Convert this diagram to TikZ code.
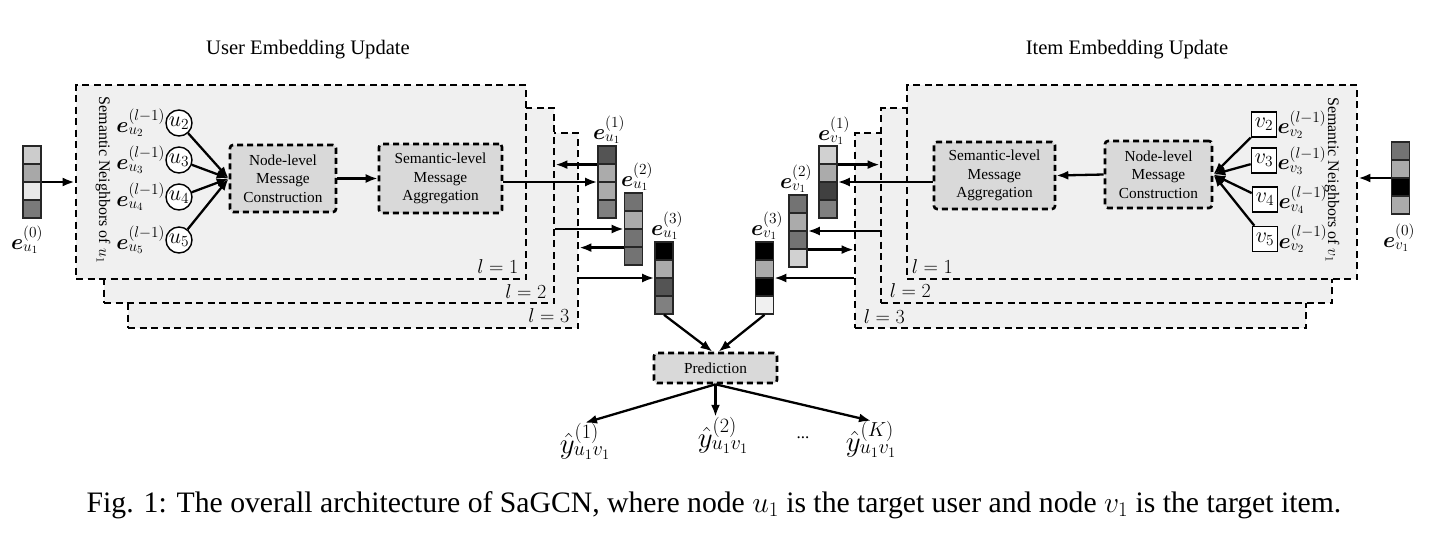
\RequirePackage{fix-cm}
\documentclass[tikz,border=0pt]{standalone}
\usepackage{amsmath,bm}
\usepackage{fontspec}
\setmainfont{Liberation Serif}
\usetikzlibrary{arrows.meta,positioning,fit}

% one embedding vector: name, centre x, top y, cell colours
\newcommand{\embvec}[4]{%
  \foreach \cc [count=\i] in {#4}
    \node[cell,fill=\cc] (#1-\i) at (#2,#3+18*\i-9) {};
  \node[fit=(#1-1)(#1-4),inner sep=0pt] (#1) {};
}

\begin{document}
\begin{tikzpicture}[x=1pt,y=-1pt,
  frame/.style={draw,line width=2.8pt,dash pattern=on 7pt off 4.5pt,fill=black!6,minimum width=450,minimum height=195,inner sep=0},
  blk/.style={draw,line width=2.6pt,dash pattern=on 6pt off 4pt,rounded corners=3pt,fill=black!15,align=center,inner sep=0,font=\fontsize{15.3}{18.7}\selectfont},
  arr/.style={-{Latex[length=12pt,width=9pt]},line width=2.3pt},
  cell/.style={draw=black!85,line width=1.2pt,minimum size=18,inner sep=0},
  lbl/.style={inner sep=0,font=\fontsize{22}{24}\selectfont},
  nbu/.style={circle,draw,line width=1.4pt,fill=white,minimum size=26,inner sep=0,font=\fontsize{22}{24}\selectfont},
  nbv/.style={rectangle,draw,line width=1.6pt,fill=white,minimum size=25,inner sep=0,font=\fontsize{22}{24}\selectfont},
  side/.style={rotate=-90,inner sep=0,font=\fontsize{16}{19}\selectfont},
  ttl/.style={font=\fontsize{20.6}{24}\selectfont},
  lay/.style={inner sep=0,font=\fontsize{20}{22}\selectfont},
  yh/.style={inner sep=0,font=\fontsize{29}{31}\selectfont}]
\useasboundingbox (0,0) rectangle (1438,542);
\node[ttl] (tu) at (308,50) {User Embedding Update};
\node[ttl] (ti) at (1127,50) {Item Embedding Update};
% user side
\node[frame] (fl3) at (353,230.5) {};
\node[frame] (fl2) at (329,205.5) {};
\node[frame,minimum height=194] (fl1) at (301,182) {};
\node[lay,anchor=south east] (lu1) at ([shift={(-9,-7)}]fl1.south east) {$l=1$};
\node[lay,anchor=south east] (lu2) at ([shift={(-9,-6)}]fl2.south east) {$l=2$};
\node[lay,anchor=south east] (lu3) at ([shift={(-10,-7)}]fl3.south east) {$l=3$};
\node[side] (snu) at (103,180) {Semantic Neighbors of $u_1$};
\node[nbu] (cu2) at (179,123) {$u_2$};
\node[nbu] (cu3) at (179,160) {$u_3$};
\node[nbu] (cu4) at (179,197) {$u_4$};
\node[nbu] (cu5) at (179,240) {$u_5$};
\node[lbl,left=0pt of cu2] {$\bm{e}^{(l-1)}_{u_2}$};
\node[lbl,left=0pt of cu3] {$\bm{e}^{(l-1)}_{u_3}$};
\node[lbl,left=0pt of cu4] {$\bm{e}^{(l-1)}_{u_4}$};
\node[lbl,left=0pt of cu5] {$\bm{e}^{(l-1)}_{u_5}$};
\node[blk,minimum width=106,minimum height=67] (nl) at (283,178.5) {Node-level\\Message\\Construction};
\node[blk,minimum width=123,minimum height=69] (sl) at (440.5,178.5) {Semantic-level\\Message\\Aggregation};
% item side
\node[frame,minimum width=451] (fr3) at (1080.5,230.5) {};
\node[frame,minimum width=451] (fr2) at (1106.5,205.5) {};
\node[frame,minimum height=194] (fr1) at (1132,182) {};
\node[lay,anchor=south west] (lv1) at ([shift={(6,-7)}]fr1.south west) {$l=1$};
\node[lay,anchor=south west] (lv2) at ([shift={(10,-7)}]fr2.south west) {$l=2$};
\node[lay,anchor=south west] (lv3) at ([shift={(10,-6)}]fr3.south west) {$l=3$};
\node[side] (snv) at (1332,180) {Semantic Neighbors of $v_1$};
\node[nbv] (sv2) at (1264,124.5) {$v_2$};
\node[nbv] (sv3) at (1264,160.5) {$v_3$};
\node[nbv] (sv4) at (1265,199.5) {$v_4$};
\node[nbv] (sv5) at (1265,239) {$v_5$};
\node[lbl,right=0pt of sv2] {$\bm{e}^{(l-1)}_{v_2}$};
\node[lbl,right=0pt of sv3] {$\bm{e}^{(l-1)}_{v_3}$};
\node[lbl,right=0pt of sv4] {$\bm{e}^{(l-1)}_{v_4}$};
\node[lbl,right=0pt of sv5] {$\bm{e}^{(l-1)}_{v_2}$};
\node[blk,minimum width=107,minimum height=67] (nr) at (1158.5,174.5) {Node-level\\Message\\Construction};
\node[blk,minimum width=121,minimum height=67] (sr) at (994.5,175.5) {Semantic-level\\Message\\Aggregation};
% embeddings
\embvec{eu0}{32}{146}{black!20,black!34,black!9,black!52}
\embvec{eu1}{607}{146}{black!67,black!33,black!33,black!50}
\embvec{eu2}{633.5}{193}{black!55,black!33,black!55,black!55}
\embvec{eu3}{664}{242}{black,black!33,black!67,black!50}
\embvec{ev1}{828}{146}{black!18,black!33,black!75,black!50}
\embvec{ev2}{798}{195}{black!55,black!33,black!55,black!18}
\embvec{ev3}{764.5}{242}{black,black!33,black,black!6}
\embvec{ev0}{1400.5}{142}{black!55,black!33,black,black!33}
\node[lbl] (leu0) at (27,240) {$\bm{e}^{(0)}_{u_1}$};
\node[lbl] (leu1) at (609,130) {$\bm{e}^{(1)}_{u_1}$};
\node[lbl] (leu2) at (637,177) {$\bm{e}^{(2)}_{u_1}$};
\node[lbl] (leu3) at (667,226) {$\bm{e}^{(3)}_{u_1}$};
\node[lbl] (lev1) at (834,131) {$\bm{e}^{(1)}_{v_1}$};
\node[lbl] (lev2) at (796,179) {$\bm{e}^{(2)}_{v_1}$};
\node[lbl] (lev3) at (767,226) {$\bm{e}^{(3)}_{v_1}$};
\node[lbl] (lev0) at (1399,238) {$\bm{e}^{(0)}_{v_1}$};
% prediction
\node[blk,minimum width=123,minimum height=30] (pred) at (715.5,368) {Prediction};
\node[yh] (y1) at (585,441) {$\hat{y}^{(1)}_{u_1v_1}$};
\node[yh] (y2) at (723,435) {$\hat{y}^{(2)}_{u_1v_1}$};
\node[lbl,font=\fontsize{17}{18}\selectfont] (dots) at (803,438) {...};
\node[yh] (yK) at (871,439) {$\hat{y}^{(K)}_{u_1v_1}$};
\node[font=\fontsize{29.7}{34}\selectfont] (cap) at (714,505) {Fig. 1: The overall architecture of SaGCN, where node $u_1$ is the target user and node $v_1$ is the target item.};
% connectors
\draw[arr] (eu0.east) -- (eu0.east -| fl1.west);
\foreach \k in {2,3,4,5} \draw[arr] (cu\k) -- (nl.west);
\draw[arr] (nl.east) -- (sl.west);
\draw[arr] (sl.east |- eu1.west) -- (eu1.west);
\draw[arr] (eu1-1.south west) -- (eu1-1.south west -| fl2.east);
\draw[arr] (eu2.west -| fl2.east) -- (eu2.west);
\draw[arr] (eu2-3.south west) -- (eu2-3.south west -| fl3.east);
\draw[arr] (eu3.west -| fl3.east) -- (eu3.west);
\draw[arr] (ev0.west) -- (ev0.west -| fr1.east);
\foreach \k in {2,3,4,5} \draw[arr] (sv\k) -- (nr.east);
\draw[arr] (nr.west) -- (sr.east);
\draw[arr] (sr.west |- ev1.east) -- (ev1.east);
\draw[arr] (ev1-1.south east) -- (ev1-1.south east -| fr2.west);
\draw[arr] (ev2.east -| fr2.west) -- (ev2.east);
\draw[arr] (ev2-3.south east) -- (ev2-3.south east -| fr3.west);
\draw[arr] (ev3.east -| fr3.west) -- (ev3.east);
\draw[arr] (eu3.south) -- ([xshift=-3pt]pred.north);
\draw[arr] (ev3.south) -- ([xshift=3pt]pred.north);
\draw[arr] (pred.south) -- (y1.north);
\draw[arr] (pred.south) -- (pred.south |- y2.north);
\draw[arr] (pred.south) -- (yK.north);
\end{tikzpicture}
\end{document}
